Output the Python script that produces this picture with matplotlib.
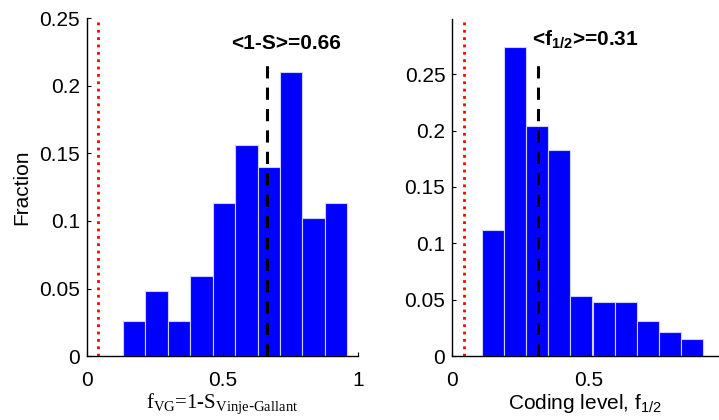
import numpy as np
import matplotlib
matplotlib.use('Agg')
import matplotlib.pyplot as plt

plt.rcParams['font.family'] = ['Liberation Sans', 'DejaVu Sans']
plt.rcParams['mathtext.default'] = 'regular'

# left panel: 1 - sparseness (Vinje-Gallant)
vg_centers = [0.174, 0.257, 0.340, 0.423, 0.505, 0.588, 0.671, 0.753, 0.836, 0.919]
vg_frac = [0.026, 0.048, 0.026, 0.059, 0.113, 0.156, 0.140, 0.210, 0.102, 0.113]
vg_width = 0.0827
vg_mean = 0.663
vg_chance = 0.04

# right panel: coding level f_1/2
cl_centers = [0.148, 0.229, 0.311, 0.392, 0.473, 0.555, 0.636, 0.718, 0.799, 0.880]
cl_frac = [0.112, 0.2745, 0.204, 0.183, 0.053, 0.048, 0.048, 0.031, 0.021, 0.015]
cl_width = 0.0814
cl_mean = 0.314
cl_chance = 0.044

blue = '#0000ff'
fs = 15

fig = plt.figure(figsize=(7.19, 4.2), dpi=100)
ax1 = fig.add_axes([0.121, 0.152, 0.377, 0.805])
ax2 = fig.add_axes([0.629, 0.152, 0.37, 0.803])

def style(ax):
    ax.spines['top'].set_visible(False)
    ax.spines['right'].set_visible(False)
    ax.tick_params(direction='in', length=3, labelsize=fs, width=0.8)
    ax.tick_params(axis='x', pad=11)
    ax.tick_params(axis='y', pad=5)
    for s in ['left', 'bottom']:
        ax.spines[s].set_linewidth(1.0)

# left
ax1.bar(vg_centers, vg_frac, width=vg_width, color=blue, edgecolor='#d0d0ff', linewidth=0.8)
ax1.axvline(vg_chance, color='red', linestyle=':', linewidth=2)
ax1.plot([vg_mean, vg_mean], [0, 0.22], color='black', linestyle='--', linewidth=2.2, dashes=(4, 3))
ax1.text(vg_mean + 0.07, 0.231, '<1-S>=0.66', ha='center', va='center', fontsize=fs, fontweight='bold')
ax1.set_xlim(0, 1)
ax1.set_ylim(0, 0.25)
ax1.set_xticks([0, 0.5, 1])
ax1.set_xticklabels(['0', '0.5', '1'])
ax1.set_yticks([0, 0.05, 0.1, 0.15, 0.2, 0.25])
ax1.set_yticklabels(['0', '0.05', '0.1', '0.15', '0.2', '0.25'])
ax1.set_ylabel('Fraction', fontsize=fs, labelpad=6)
ax1.set_xlabel(r'f$_{VG}$=1-S$_{Vinje\text{-}Gallant}$', fontsize=fs,
               fontfamily='Liberation Serif', labelpad=1)
style(ax1)

# right
ax2.bar(cl_centers, cl_frac, width=cl_width, color=blue, edgecolor='#d0d0ff', linewidth=0.8)
ax2.axvline(cl_chance, color='red', linestyle=':', linewidth=2)
ax2.plot([cl_mean, cl_mean], [0, 0.264], color='black', linestyle='--', linewidth=2.2, dashes=(4, 3))
ax2.text(cl_mean + 0.175, 0.28, r'<f$_{1/2}$>=0.31', ha='center', va='center', fontsize=fs, fontweight='bold')
ax2.set_xlim(0, 0.975)
ax2.set_ylim(0, 0.299)
ax2.set_xticks([0, 0.5])
ax2.set_xticklabels(['0', '0.5'])
ax2.set_yticks([0, 0.05, 0.1, 0.15, 0.2, 0.25])
ax2.set_yticklabels(['0', '0.05', '0.1', '0.15', '0.2', '0.25'])
ax2.set_xlabel(r'Coding level, f$_{1/2}$', fontsize=fs, labelpad=1)
style(ax2)

fig.savefig('out.png', dpi=100)
